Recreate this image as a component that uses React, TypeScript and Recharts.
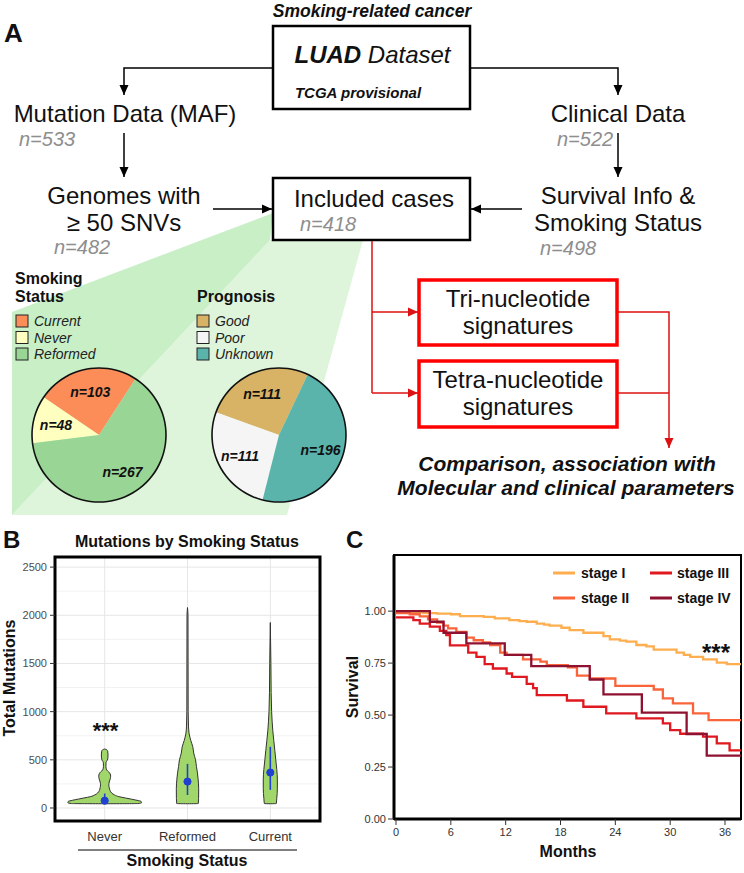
import React from 'react';
import {
  ComposedChart, Area, XAxis, YAxis, CartesianGrid, ReferenceLine, ReferenceDot, ReferenceArea,
  LineChart, Line, PieChart, Pie, Cell,
} from 'recharts';

const FONT = '"Liberation Sans", Arial, Helvetica, sans-serif';
const RAD = Math.PI / 180;

// ---------------- Panel A: pies ----------------
const smokingCategories = ['Current', 'Never', 'Reformed'];
const smokingCounts = [103, 48, 267];
const smokingColors = ['#fc8d59', '#ffffbf', '#99d594'];
const prognosisCategories = ['Good', 'Poor', 'Unknown'];
const prognosisCounts = [111, 111, 196];
const prognosisColors = ['#d8b365', '#f5f5f5', '#5ab4ac'];

// ---------------- Panel B: violins ----------------
const smokingStatusOrder = ['Never', 'Reformed', 'Current'];
const neverMutations = [44, 46, 55, 68, 80, 92, 104, 118, 135, 155, 180, 210, 240, 270, 300, 330, 355, 375, 395, 430, 470, 495, 520, 560, 590, 605, 612];
const neverHalfWidth = [0, 0.40, 0.445, 0.44, 0.39, 0.32, 0.25, 0.17, 0.12, 0.085, 0.065, 0.055, 0.05, 0.055, 0.066, 0.072, 0.066, 0.048, 0.024, 0.015, 0.016, 0.03, 0.039, 0.04, 0.036, 0.024, 0];
const reformedMutations = [44, 46, 100, 200, 300, 365, 430, 500, 570, 635, 700, 770, 850, 1000, 1500, 2000, 2080];
const reformedHalfWidth = [0, 0.13, 0.134, 0.135, 0.128, 0.12, 0.108, 0.097, 0.075, 0.064, 0.04, 0.02, 0.012, 0.008, 0.007, 0.006, 0];
const currentMutations = [44, 46, 100, 200, 300, 400, 500, 600, 700, 800, 900, 1000, 1200, 1500, 1925];
const currentHalfWidth = [0, 0.072, 0.078, 0.085, 0.085, 0.078, 0.066, 0.054, 0.042, 0.03, 0.022, 0.016, 0.01, 0.007, 0];
const medianMutations = [76, 274, 368];
const iqrLow = [50, 135, 188];
const iqrHigh = [150, 458, 635];
const mutationTicks = [0, 500, 1000, 1500, 2000, 2500];
const mutationMinorTicks = [250, 750, 1250, 1750, 2250];

// ---------------- Panel C: survival ----------------
const stageNames = ['stage I', 'stage II', 'stage III', 'stage IV'];
const stageColors = ['#feae4f', '#f9643a', '#e0181f', '#8e1230'];
const stageIMonths = [0, 1.5, 3, 4.5, 6, 7, 9.6, 10.8, 12.4, 13.5, 14.3, 15.4, 16.2, 16.8, 18.1, 19.0, 20.5, 22.7, 23.4, 24.5, 25.2, 26.3, 27.4, 28.2, 30.7, 31.5, 32.2, 33.6, 35.1, 36.2, 37.75];
const stageISurvival = [1.0, 0.995, 0.99, 0.988, 0.985, 0.976, 0.972, 0.965, 0.957, 0.952, 0.949, 0.94, 0.935, 0.93, 0.92, 0.909, 0.896, 0.88, 0.864, 0.858, 0.853, 0.837, 0.83, 0.815, 0.80, 0.79, 0.78, 0.768, 0.752, 0.745, 0.74];
const stageIIMonths = [0, 1.5, 2.6, 3.5, 4.5, 5.2, 5.7, 6.6, 7.7, 8.5, 9.5, 10.3, 11.4, 12.1, 13.9, 15.8, 16.5, 18.8, 19.8, 21.2, 24.0, 28.2, 29.2, 30.3, 32.5, 34.2, 37.75];
const stageIISurvival = [0.99, 0.985, 0.975, 0.96, 0.945, 0.93, 0.917, 0.9, 0.873, 0.86, 0.85, 0.837, 0.80, 0.79, 0.768, 0.757, 0.74, 0.73, 0.69, 0.676, 0.64, 0.623, 0.58, 0.556, 0.508, 0.476, 0.476];
const stageIIIMonths = [0, 1.9, 2.6, 3.7, 4.8, 5.5, 5.9, 7.9, 8.8, 9.7, 10.6, 12.1, 12.7, 14.3, 15.0, 15.4, 18.7, 20.5, 23.0, 26.3, 29.2, 30.0, 31.1, 33.6, 35.1, 36.5, 37.75];
const stageIIISurvival = [0.97, 0.957, 0.94, 0.925, 0.905, 0.885, 0.835, 0.80, 0.78, 0.745, 0.724, 0.70, 0.684, 0.65, 0.63, 0.596, 0.57, 0.54, 0.508, 0.484, 0.46, 0.428, 0.41, 0.396, 0.364, 0.33, 0.33];
const stageIVMonths = [0, 3.7, 5.2, 7.7, 11.9, 14.8, 21.2, 22.7, 26.9, 31.8, 34.0, 37.75];
const stageIVSurvival = [1.0, 0.949, 0.896, 0.845, 0.79, 0.735, 0.671, 0.60, 0.512, 0.409, 0.305, 0.305];
const monthTicks = [0, 6, 12, 18, 24, 30, 36];
const survivalTicks = [0, 0.25, 0.5, 0.75, 1];

// ---------------- derived tables ----------------
const smokingPieData = smokingCategories.map((name, i) => ({ name, value: smokingCounts[i] }));
const prognosisPieData = prognosisCategories.map((name, i) => ({ name, value: prognosisCounts[i] }));

const violinSeries = [
  { key: 'never', pos: 1, m: neverMutations, w: neverHalfWidth },
  { key: 'reformed', pos: 2, m: reformedMutations, w: reformedHalfWidth },
  { key: 'current', pos: 3, m: currentMutations, w: currentHalfWidth },
];
const violinTable = violinSeries.flatMap((s) =>
  s.m.map((m, i) => {
    const row: any = { m };
    violinSeries.forEach((o) => {
      row[o.key] = o.key === s.key ? [o.pos - s.w[i], o.pos + s.w[i]] : [null, null];
    });
    return row;
  })
);

const stageSeries = [
  { t: stageIMonths, s: stageISurvival },
  { t: stageIIMonths, s: stageIISurvival },
  { t: stageIIIMonths, s: stageIIISurvival },
  { t: stageIVMonths, s: stageIVSurvival },
].map((d, i) => ({
  name: stageNames[i],
  color: stageColors[i],
  data: d.t.map((t, j) => ({ t, s: d.s[j] })),
}));

const renderPieLabel = (props: any) => {
  const { cx, cy, midAngle, outerRadius, value } = props;
  const r = outerRadius * 0.66;
  const x = cx + r * Math.cos(-midAngle * RAD);
  const y = cy + r * Math.sin(-midAngle * RAD);
  return (
    <text x={x} y={y} textAnchor="middle" dominantBaseline="central" fontFamily={FONT}
      fontSize={14} fontWeight="bold" fontStyle="italic" fill="#111">
      {`n=${value}`}
    </text>
  );
};

const gray = '#8e8e8e';
const red = '#dd1111';

function Flow() {
  const t = (x: number, y: number, s: string, opts: any = {}) => (
    <text x={x} y={y} fontFamily={FONT} fontSize={24} fill="#111" {...opts}>{s}</text>
  );
  return (
    <svg width={744} height={873} style={{ position: 'absolute', left: 0, top: 0 }}>
      <defs>
        <marker id="ab" markerWidth={10} markerHeight={10} refX={10} refY={5} orient="auto" markerUnits="userSpaceOnUse">
          <path d="M0,0.5 L10,5 L0,9.5 z" fill="#000" />
        </marker>
        <marker id="ar" markerWidth={10} markerHeight={10} refX={10} refY={5} orient="auto" markerUnits="userSpaceOnUse">
          <path d="M0,0.5 L10,5 L0,9.5 z" fill={red} />
        </marker>
      </defs>
      {/* zoom shading */}
      <polygon points="270,240 363,240 287,515 12,515" fill="#def5dc" />
      <polygon points="273,213 12,312 12,515 270,240" fill="#c8efc6" />

      {/* black flow */}
      <g stroke="#000" strokeWidth={1.5} fill="none">
        <path d="M273,68 H124 V95" markerEnd="url(#ab)" />
        <path d="M470,68 H618 V95" markerEnd="url(#ab)" />
        <path d="M124,133 V177" markerEnd="url(#ab)" />
        <path d="M618,133 V177" markerEnd="url(#ab)" />
        <path d="M213,209 H272" markerEnd="url(#ab)" />
        <path d="M522,209 H471" markerEnd="url(#ab)" />
      </g>
      <rect x={273} y={26} width={197} height={83} fill="#fff" stroke="#000" strokeWidth={2.5} />
      <rect x={273} y={178} width={197} height={62} fill="#fff" stroke="#000" strokeWidth={2.5} />

      {/* red flow */}
      <g stroke={red} strokeWidth={1.5} fill="none">
        <path d="M372,241 V393" />
        <path d="M372,312 H418" markerEnd="url(#ar)" />
        <path d="M372,393 H418" markerEnd="url(#ar)" />
        <path d="M617,312 H669 V448" markerEnd="url(#ar)" />
        <path d="M617,393 H669" />
      </g>
      <rect x={419} y={280} width={198} height={65} fill="#fff" stroke="#ff0000" strokeWidth={3.5} />
      <rect x={419} y={361} width={198} height={66} fill="#fff" stroke="#ff0000" strokeWidth={3.5} />

      {/* texts */}
      {t(4, 42, 'A', { fontSize: 26, fontWeight: 'bold' })}
      {t(372, 17, 'Smoking-related cancer', { fontSize: 17.5, fontWeight: 'bold', fontStyle: 'italic', textAnchor: 'middle' })}
      <text x={372.5} y={63} fontFamily={FONT} fontSize={24} fontStyle="italic" textAnchor="middle" fill="#111">
        <tspan fontWeight="bold">LUAD</tspan> Dataset
      </text>
      {t(358, 98, 'TCGA provisional', { fontSize: 15, fontWeight: 'bold', fontStyle: 'italic', textAnchor: 'middle' })}
      {t(125, 122, 'Mutation Data (MAF)', { textAnchor: 'middle' })}
      {t(19, 146, 'n=533', { fontSize: 20, fontStyle: 'italic', fill: gray })}
      {t(124, 204, 'Genomes with', { textAnchor: 'middle' })}
      {t(124, 231, '≥ 50 SNVs', { textAnchor: 'middle' })}
      {t(54, 254, 'n=482', { fontSize: 20, fontStyle: 'italic', fill: gray })}
      {t(374, 207, 'Included cases', { textAnchor: 'middle' })}
      {t(300, 231, 'n=418', { fontSize: 20, fontStyle: 'italic', fill: gray })}
      {t(618, 122, 'Clinical Data', { textAnchor: 'middle' })}
      {t(557, 146, 'n=522', { fontSize: 20, fontStyle: 'italic', fill: gray })}
      {t(618, 204, 'Survival Info &', { textAnchor: 'middle' })}
      {t(618, 231, 'Smoking Status', { textAnchor: 'middle' })}
      {t(540, 255, 'n=498', { fontSize: 20, fontStyle: 'italic', fill: gray })}
      {t(518, 307, 'Tri-nucleotide', { textAnchor: 'middle' })}
      {t(518, 334, 'signatures', { textAnchor: 'middle' })}
      {t(518, 388, 'Tetra-nucleotide', { textAnchor: 'middle' })}
      {t(518, 415, 'signatures', { textAnchor: 'middle' })}
      {t(567, 471, 'Comparison, association with', { fontSize: 21, fontWeight: 'bold', fontStyle: 'italic', textAnchor: 'middle' })}
      {t(566, 495, 'Molecular and clinical parameters', { fontSize: 21, fontWeight: 'bold', fontStyle: 'italic', textAnchor: 'middle' })}

      {/* pie legends */}
      {t(15, 284, 'Smoking', { fontSize: 16, fontWeight: 'bold' })}
      {t(15, 302, 'Status', { fontSize: 16, fontWeight: 'bold' })}
      {smokingCategories.map((c, i) => (
        <g key={c}>
          <rect x={16} y={315 + i * 16.5} width={12} height={12} fill={smokingColors[i]} stroke="#222" strokeWidth={1} />
          {t(34, 326 + i * 16.5, c, { fontSize: 14, fontStyle: 'italic', fill: '#222' })}
        </g>
      ))}
      {t(197, 302, 'Prognosis', { fontSize: 16, fontWeight: 'bold' })}
      {prognosisCategories.map((c, i) => (
        <g key={c}>
          <rect x={197} y={315 + i * 16.5} width={12} height={12} fill={prognosisColors[i]} stroke="#222" strokeWidth={1} />
          {t(215, 326 + i * 16.5, c, { fontSize: 14, fontStyle: 'italic', fill: '#222' })}
        </g>
      ))}
    </svg>
  );
}

function PieBlock({ left, top, data, colors, startAngle }: any) {
  return (
    <div style={{ position: 'absolute', left, top }}>
      <PieChart width={150} height={150} margin={{ top: 0, right: 0, bottom: 0, left: 0 }}>
        <Pie data={data} dataKey="value" cx={75} cy={75} outerRadius={67} startAngle={startAngle}
          endAngle={startAngle + 360} stroke="none" label={renderPieLabel} labelLine={false} isAnimationActive={false}>
          {data.map((d: any, i: number) => <Cell key={d.name} fill={colors[i]} />)}
        </Pie>
        <Pie data={[{ name: 'ring', value: 1 }]} dataKey="value" cx={75} cy={75} innerRadius={66.2} outerRadius={67.8}
          startAngle={0} endAngle={360} fill="#111" stroke="none" isAnimationActive={false} />
      </PieChart>
    </div>
  );
}

function PanelB() {
  const tickStyle = { fontSize: 11, fill: '#4d4d4d', fontFamily: FONT };
  return (
    <div style={{ position: 'absolute', left: 0, top: 540 }}>
      <ComposedChart layout="vertical" width={330} height={333} data={violinTable}
        margin={{ top: 17, right: 10, left: 15, bottom: 22 }}>
        <CartesianGrid horizontalValues={mutationMinorTicks} vertical={false} stroke="#f2f2f2" />
        <CartesianGrid stroke="#e6e6e6" />
        <XAxis type="number" domain={[0.4, 3.6]} ticks={[1, 2, 3]} allowDataOverflow
          tickFormatter={(v: number) => smokingStatusOrder[v - 1]} axisLine={false} tickLine={false}
          tickSize={6} tickMargin={5} height={30} tick={{ fontSize: 13, fill: '#333', fontFamily: FONT }} />
        <YAxis type="number" dataKey="m" domain={[-135, 2605]} ticks={mutationTicks} allowDataOverflow reversed
          width={40} axisLine={false} tickSize={5} tickMargin={3} tickLine={{ stroke: '#333' }} tick={tickStyle} />
        {violinSeries.map((s) => (
          <Area key={s.key} dataKey={s.key} type="monotone" fill="#a1d76a" fillOpacity={1} stroke="#333"
            strokeWidth={1} connectNulls={false} isAnimationActive={false} dot={false} activeDot={false} />
        ))}
        {smokingStatusOrder.map((s, i) => (
          <ReferenceLine key={`iqr-${s}`} segment={[{ x: i + 1, y: iqrLow[i] }, { x: i + 1, y: iqrHigh[i] }]}
            stroke="#2040d0" strokeWidth={1.6} ifOverflow="visible" />
        ))}
        {smokingStatusOrder.map((s, i) => (
          <ReferenceDot key={`med-${s}`} x={i + 1} y={medianMutations[i]} r={3.6} fill="#2040d0" stroke="#2040d0"
            ifOverflow="visible" />
        ))}
        <ReferenceArea x1={0.4} x2={3.6} y1={-135} y2={2605} fill="none" stroke="#000" strokeWidth={3} ifOverflow="visible" />
      </ComposedChart>
    </div>
  );
}

function PanelC() {
  const tickStyle = { fontSize: 11, fill: '#333', fontFamily: FONT };
  return (
    <div style={{ position: 'absolute', left: 340, top: 540 }}>
      <LineChart width={404} height={333} margin={{ top: 15, right: 3, left: 14, bottom: 24 }}>
        <XAxis type="number" dataKey="t" domain={[-0.22, 37.75]} ticks={monthTicks} allowDataOverflow
          axisLine={{ stroke: '#000', strokeWidth: 3 }} tickLine={{ stroke: '#333' }} tickSize={6} tickMargin={3}
          height={30} tick={tickStyle} />
        <YAxis type="number" domain={[0, 1.27]} ticks={survivalTicks} allowDataOverflow width={40}
          tickFormatter={(v: number) => v.toFixed(2)} axisLine={{ stroke: '#000', strokeWidth: 3 }}
          tickLine={{ stroke: '#333' }} tickSize={6} tickMargin={2} tick={tickStyle} />
        {stageSeries.map((s) => (
          <Line key={s.name} data={s.data} dataKey="s" type="stepAfter" stroke={s.color} strokeWidth={2.3}
            dot={false} activeDot={false} isAnimationActive={false} />
        ))}
        <ReferenceArea x1={-0.22} x2={37.75} y1={0} y2={1.27} fill="none" stroke="#000" strokeWidth={2} ifOverflow="visible" />
      </LineChart>
    </div>
  );
}

function BottomOverlay() {
  const bold = { fontFamily: FONT, fontWeight: 'bold' as const, fill: '#111' };
  return (
    <svg width={744} height={873} style={{ position: 'absolute', left: 0, top: 0, pointerEvents: 'none' }}>
      <text x={3} y={548} fontSize={24} {...bold}>B</text>
      <text x={187} y={547} fontSize={16} textAnchor="middle" {...bold}>Mutations by Smoking Status</text>
      <text x={15} y={678} fontSize={16} textAnchor="middle" transform="rotate(-90 15 678)" {...bold}>Total Mutations</text>
      <text x={105.5} y={738} fontSize={22} textAnchor="middle" {...bold}>***</text>
      <line x1={78} x2={297} y1={850} y2={850} stroke="#000" strokeWidth={1} />
      <text x={187} y={866} fontSize={16} textAnchor="middle" {...bold}>Smoking Status</text>

      <text x={346} y={548} fontSize={24} {...bold}>C</text>
      <text x={358} y={687} fontSize={16} textAnchor="middle" transform="rotate(-90 358 687)" {...bold}>Survival</text>
      <text x={568} y={857} fontSize={16} textAnchor="middle" {...bold}>Months</text>
      <text x={716} y={661} fontSize={24} textAnchor="middle" {...bold}>***</text>
      {stageSeries.map((s, i) => {
        const col = i < 2 ? 0 : 1;
        const row = i % 2;
        const lx = col === 0 ? 553 : 650;
        const tx = col === 0 ? 581 : 677;
        const ly = 573 + row * 25;
        return (
          <g key={s.name}>
            <line x1={lx} x2={lx + 22} y1={ly} y2={ly} stroke={s.color} strokeWidth={3} />
            <text x={tx} y={ly + 5} fontSize={14} {...bold}>{s.name}</text>
          </g>
        );
      })}
    </svg>
  );
}

export default function App() {
  return (
    <div style={{ position: 'absolute', left: 0, top: 0, width: 744, height: 873, background: '#fff', overflow: 'hidden', fontFamily: FONT }}>
      <Flow />
      <PieBlock left={24} top={360} data={smokingPieData} colors={smokingColors} startAngle={57} />
      <PieBlock left={204} top={360} data={prognosisPieData} colors={prognosisColors} startAngle={64.6} />
      <PanelB />
      <PanelC />
      <BottomOverlay />
    </div>
  );
}
